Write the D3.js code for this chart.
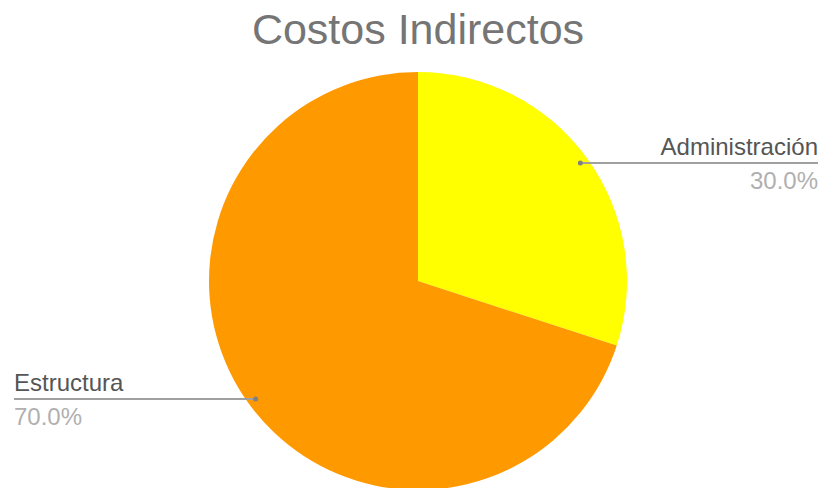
<!DOCTYPE html>
<html>
<head>
<meta charset="utf-8">
<script src="https://d3js.org/d3.v7.min.js"></script>
<style>
  body { margin: 0; background: #fff; }
  text { font-family: "Liberation Sans", Arial, sans-serif; }
</style>
</head>
<body>
<script>
var w = 824, h = 488;
var categories = ['Administración', 'Estructura'];
var values = [30, 70];
var colors = ['#ffff00', '#ff9900'];
var sides = ['right', 'left'];

var cx = 418, cy = 281, r = 209;

var svg = d3.select('body').append('svg')
    .attr('width', w).attr('height', h);

svg.append('text')
    .attr('x', 418).attr('y', 44)
    .attr('text-anchor', 'middle')
    .attr('font-size', 43)
    .attr('fill', '#757575')
    .text('Costos Indirectos');

var pie = d3.pie().sort(null).value(function(d){ return d; });
var arcs = pie(values);
var arc = d3.arc().innerRadius(0).outerRadius(r);

var g = svg.append('g').attr('transform', 'translate(' + cx + ',' + cy + ')');

g.selectAll('path').data(arcs).enter().append('path')
    .attr('d', arc)
    .attr('fill', function(d, i){ return colors[i]; });

var total = d3.sum(values);
var fmt = d3.format('.1%');

arcs.forEach(function(d, i){
    var mid = (d.startAngle + d.endAngle) / 2;
    var rr = r * 0.96;
    var px = cx + rr * Math.sin(mid);
    var py = cy - rr * Math.cos(mid);
    var x2 = sides[i] == 'right' ? 818 : 14;
    var anchor = sides[i] == 'right' ? 'end' : 'start';

    svg.append('line')
        .attr('x1', px).attr('y1', py)
        .attr('x2', x2).attr('y2', py)
        .attr('stroke', '#a0a0a0')
        .attr('stroke-width', 2);
    svg.append('circle')
        .attr('cx', px).attr('cy', py).attr('r', 2.5)
        .attr('fill', '#808080');

    svg.append('text')
        .attr('x', x2).attr('y', py - 8)
        .attr('text-anchor', anchor)
        .attr('font-size', 24)
        .attr('fill', '#555555')
        .text(categories[i]);
    svg.append('text')
        .attr('x', x2).attr('y', py + 26)
        .attr('text-anchor', anchor)
        .attr('font-size', 24)
        .attr('fill', '#b0b0b0')
        .text(fmt(values[i] / total));
});
</script>
</body>
</html>
